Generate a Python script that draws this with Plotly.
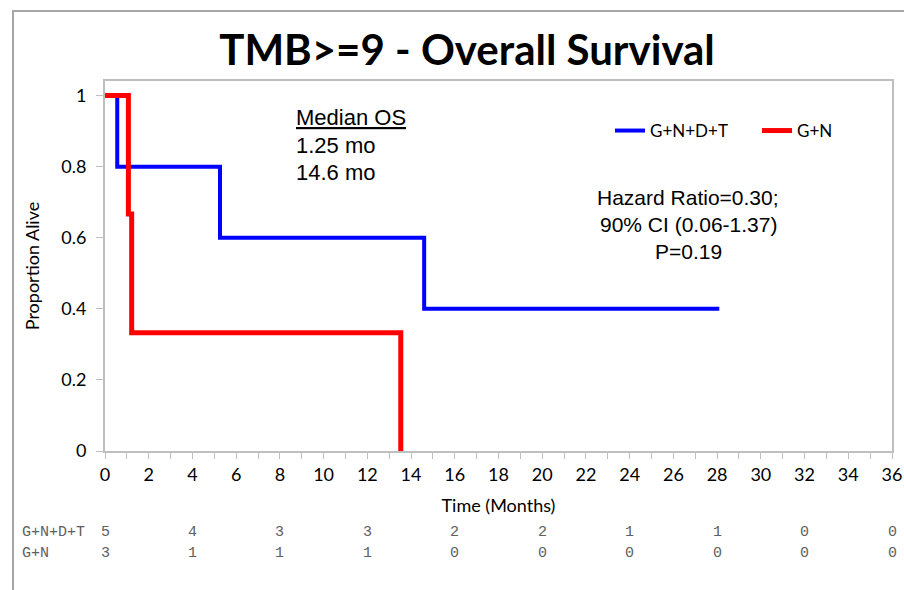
import plotly.graph_objects as go

# Kaplan-Meier step data (months, proportion alive)
blue_name = "G+N+D+T"
blue_t = [0, 0.56, 5.26, 14.6, 28.1]
blue_s = [1.0, 0.8, 0.6, 0.4, 0.4]

red_name = "G+N"
red_t = [0, 1.07, 1.22, 13.53]
red_s = [1.0, 0.667, 0.333, 0.0]

# numbers at risk
risk_times = [0, 4, 8, 12, 16, 20, 24, 28, 32, 36]
risk_blue = [5, 4, 3, 3, 2, 2, 1, 1, 0, 0]
risk_red = [3, 1, 1, 1, 0, 0, 0, 0, 0, 0]

median_lines = ["1.25 mo", "14.6 mo"]
hr_lines = ["Hazard Ratio=0.30;", "90% CI (0.06-1.37)", "P=0.19"]

W, H = 904, 590
# plot area in window pixels: x 105..892, y 81..451
L, R, T, B = 105, W - 892, 81, H - 451
pw, ph = W - L - R, H - T - B


def px_x(p):
    return (p - L) / pw


def px_y(p):
    return (H - B - p) / ph


fig = go.Figure()
fig.add_trace(go.Scatter(x=blue_t, y=blue_s, mode="lines", line_shape="hv",
                         line=dict(color="#0000ff", width=4), name=blue_name,
                         legend="legend"))
fig.add_trace(go.Scatter(x=red_t, y=red_s, mode="lines", line_shape="hv",
                         line=dict(color="#ff0000", width=5), name=red_name,
                         legend="legend2"))

calibri = "Lato, Calibri, sans-serif"
arial = "Liberation Sans, Arial, sans-serif"
courier = "Liberation Mono, Courier New, monospace"

annotations = []
annotations.append(dict(x=px_x(294), y=px_y(117), xref="paper", yref="paper",
                        text="<u>Median OS</u>", showarrow=False, xanchor="left",
                        yanchor="middle", font=dict(family=arial, size=22, color="black")))
for i, t in enumerate(median_lines):
    annotations.append(dict(x=px_x(294), y=px_y(145 + 27 * i), xref="paper", yref="paper",
                            text=t, showarrow=False, xanchor="left", yanchor="middle",
                            font=dict(family=arial, size=22, color="black")))
for i, t in enumerate(hr_lines):
    annotations.append(dict(x=px_x(688), y=px_y(197 + 27 * i), xref="paper", yref="paper",
                            text=t, showarrow=False, xanchor="center", yanchor="middle",
                            font=dict(family=arial, size=21, color="black")))
for lab, vals, py in [(blue_name, risk_blue, 532), (red_name, risk_red, 553)]:
    annotations.append(dict(x=px_x(20), y=px_y(py), xref="paper", yref="paper",
                            text=lab, showarrow=False, xanchor="left", yanchor="middle",
                            font=dict(family=courier, size=15, color="#606060")))
    for tm, v in zip(risk_times, vals):
        annotations.append(dict(x=tm, y=px_y(py), xref="x", yref="paper",
                                text=str(v), showarrow=False, xanchor="center",
                                yanchor="middle",
                                font=dict(family=courier, size=15, color="#606060")))

shapes = [dict(type="rect", xref="paper", yref="paper",
               x0=px_x(13), x1=px_x(930), y0=px_y(620), y1=px_y(11),
               line=dict(color="#a6a6a6", width=2), fillcolor="rgba(0,0,0,0)", layer="below")]

leg_common = dict(orientation="h", xanchor="left", yanchor="middle",
                  font=dict(family=calibri, size=17, color="black"),
                  bgcolor="rgba(0,0,0,0)", itemwidth=30)

fig.update_layout(
    width=W, height=H,
    margin=dict(l=L, r=R, t=T, b=B, autoexpand=False),
    paper_bgcolor="white", plot_bgcolor="white",
    showlegend=True,
    title=dict(text="<b>TMB>=9 - Overall Survival</b>", x=467 / W, xref="container",
               y=1 - 50 / H, yref="container", xanchor="center", yanchor="middle",
               font=dict(family=calibri, size=42, color="black")),
    xaxis=dict(range=[0, 36], tickmode="linear", tick0=0, dtick=2, automargin=False,
               showgrid=False, zeroline=False, showline=True, mirror=True,
               linecolor="#bfbfbf", linewidth=2, ticks="outside", ticklen=6,
               tickcolor="#bfbfbf", tickwidth=1,
               minor=dict(dtick=1, ticks="outside", ticklen=6, tickcolor="#bfbfbf", showgrid=False),
               tickfont=dict(family=calibri, size=18, color="black"),
               title=dict(text="Time (Months)", font=dict(family=calibri, size=18, color="black"),
                          standoff=16)),
    yaxis=dict(range=[0, 1.041], tickmode="array", tickvals=[0, 0.2, 0.4, 0.6, 0.8, 1],
               ticktext=["0", "0.2", "0.4", "0.6", "0.8", "1"], automargin=False,
               showgrid=False, zeroline=False, showline=True, mirror=True,
               linecolor="#bfbfbf", linewidth=2, ticks="outside", ticklen=7,
               tickcolor="#bfbfbf", tickwidth=1, ticklabelstandoff=6,
               tickfont=dict(family=calibri, size=18, color="black"),
               title=dict(text="Proportion Alive", font=dict(family=calibri, size=18, color="black"),
                          standoff=17)),
    legend=dict(x=px_x(610), y=px_y(131), **leg_common),
    legend2=dict(x=px_x(757), y=px_y(131), **leg_common),
    annotations=annotations,
    shapes=shapes,
)

fig.write_html("out.html", config={"displayModeBar": False},
               post_script="document.body.style.margin='0px';document.body.style.overflow='hidden';")
